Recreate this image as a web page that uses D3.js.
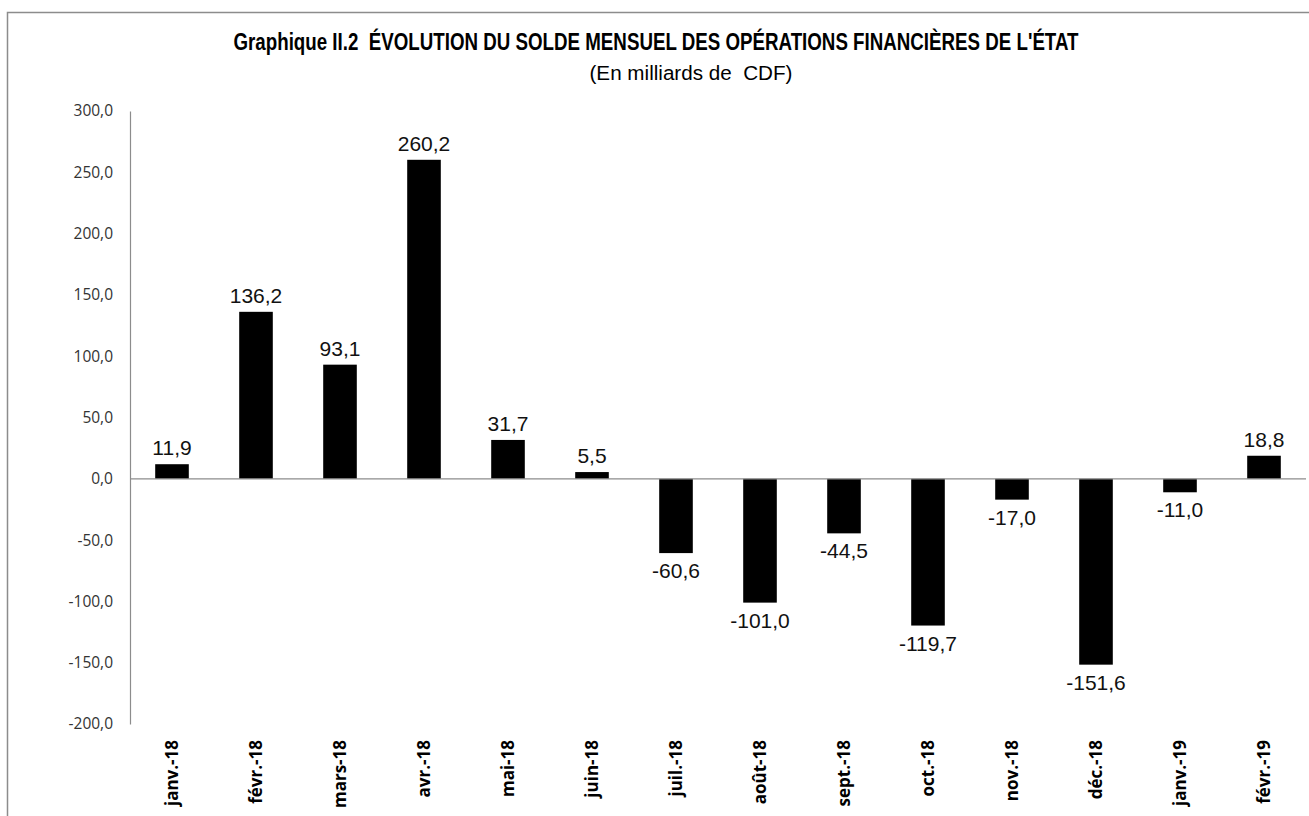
<!DOCTYPE html>
<html>
<head>
<meta charset="utf-8">
<script src="https://cdn.jsdelivr.net/npm/d3@7"></script>
<style>
  body { margin: 0; background: #fff; }
  svg { display: block; }
</style>
</head>
<body>
<div id="chart"></div>
<script>
// Données du graphique
const mois = ["janv.-18", "févr.-18", "mars-18", "avr.-18", "mai-18", "juin-18", "juil.-18",
              "août-18", "sept.-18", "oct.-18", "nov.-18", "déc.-18", "janv.-19", "févr.-19"];
const solde = [11.9, 136.2, 93.1, 260.2, 31.7, 5.5, -60.6, -101.0, -44.5, -119.7, -17.0, -151.6, -11.0, 18.8];
const ticksY = [300, 250, 200, 150, 100, 50, 0, -50, -100, -150, -200];

const width = 1309, height = 816;

// Format français : virgule décimale, tiret simple pour le signe moins
const locale = d3.formatLocale({ decimal: ",", thousands: " ", grouping: [3], currency: ["", ""], minus: "-" });
const fmt = locale.format(".1f");

const svg = d3.select("#chart").append("svg")
    .attr("width", width)
    .attr("height", height);

// Cadre
svg.append("rect")
    .attr("x", 7.5).attr("y", 12.5)
    .attr("width", width + 10).attr("height", height + 10)
    .attr("fill", "none").attr("stroke", "#8c8c8c").attr("stroke-width", 1.5);

// Titre (police étroite simulée avec textLength)
svg.append("text")
    .attr("x", 656).attr("y", 50)
    .attr("text-anchor", "middle")
    .attr("textLength", 845).attr("lengthAdjust", "spacingAndGlyphs")
    .style("font-family", "'Liberation Sans', Arial, sans-serif")
    .style("font-weight", "bold").style("font-size", "23.5px")
    .style("white-space", "pre")
    .text("Graphique II.2  ÉVOLUTION DU SOLDE MENSUEL DES OPÉRATIONS FINANCIÈRES DE L'ÉTAT");
svg.append("text")
    .attr("x", 691).attr("y", 80)
    .attr("text-anchor", "middle")
    .attr("textLength", 203).attr("lengthAdjust", "spacingAndGlyphs")
    .style("font-family", "'Liberation Sans', Arial, sans-serif")
    .style("font-size", "20.5px")
    .style("white-space", "pre")
    .text("(En milliards de  CDF)");

// Échelles
const x = d3.scaleBand().domain(mois).range([130, 1306]).paddingInner(0.6).paddingOuter(0.3);
const y = d3.scaleLinear().domain([-200, 300]).range([724, 111]);

// Axe Y
const yAxis = svg.append("g")
    .attr("transform", "translate(130,0)")
    .call(d3.axisLeft(y).tickValues(ticksY).tickSize(0).tickPadding(17).tickFormat(fmt));
yAxis.select(".domain").attr("stroke", "#8c8c8c").attr("stroke-width", 1.2);
yAxis.selectAll("text")
    .style("font-family", "'Open Sans', sans-serif")
    .style("font-size", "15.5px").attr("fill", "#333");

// Barres
svg.selectAll("rect.bar")
    .data(solde)
    .enter().append("rect")
    .attr("class", "bar")
    .attr("x", (d, i) => x(mois[i]))
    .attr("width", x.bandwidth())
    .attr("y", d => y(Math.max(0, d)))
    .attr("height", d => Math.abs(y(d) - y(0)))
    .attr("fill", "#000");

// Ligne zéro
svg.append("line")
    .attr("x1", 130).attr("x2", 1306)
    .attr("y1", y(0)).attr("y2", y(0))
    .attr("stroke", "#8c8c8c").attr("stroke-width", 1.2);

// Étiquettes de valeurs
svg.selectAll("text.val")
    .data(solde)
    .enter().append("text")
    .attr("class", "val")
    .attr("x", (d, i) => x(mois[i]) + x.bandwidth() / 2)
    .attr("y", d => d >= 0 ? y(d) - 9 : y(d) + 25)
    .attr("text-anchor", "middle")
    .style("font-family", "'Liberation Sans', Arial, sans-serif")
    .style("font-size", "21px")
    .attr("fill", "#111")
    .text(d => fmt(d));

// Étiquettes de l'axe X
svg.selectAll("text.mois")
    .data(mois)
    .enter().append("text")
    .attr("class", "mois")
    .attr("transform", d => `translate(${x(d) + x.bandwidth() / 2 + 6},740) rotate(-90)`)
    .attr("text-anchor", "end")
    .style("font-family", "'Open Sans', sans-serif")
    .style("font-weight", "bold").style("font-size", "17px")
    .text(d => d);
</script>
</body>
</html>
